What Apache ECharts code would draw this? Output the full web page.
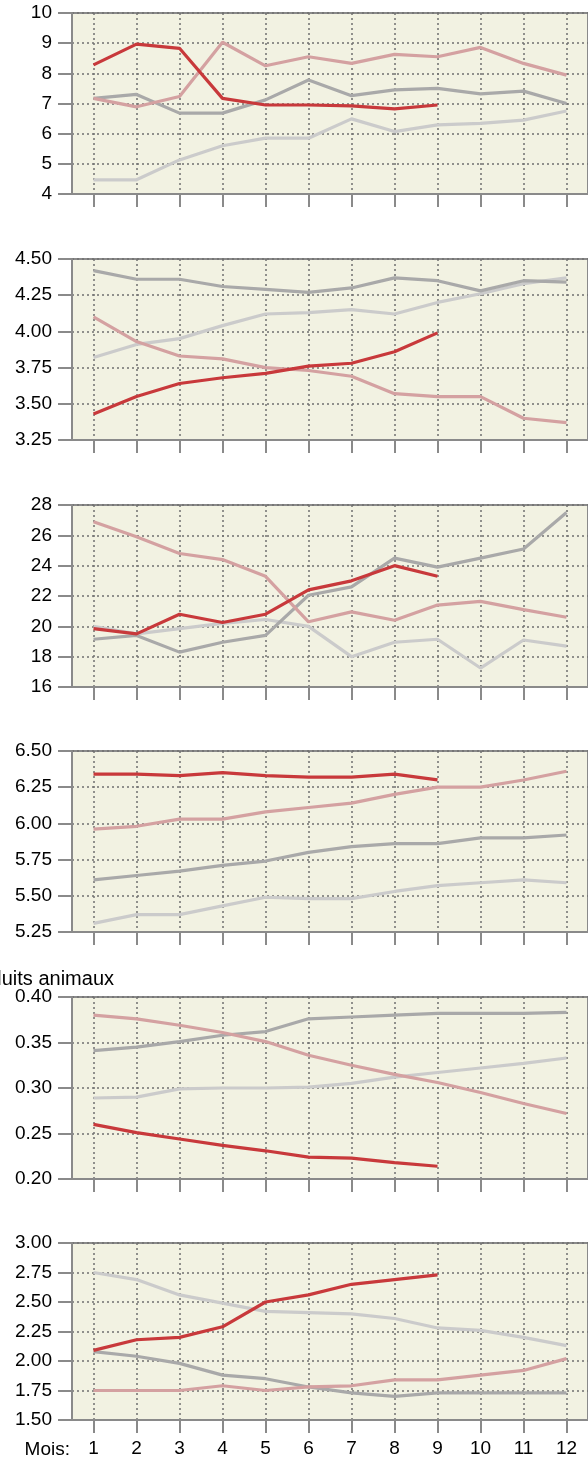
<!DOCTYPE html>
<html>
<head>
<meta charset="utf-8">
<script src="https://cdn.jsdelivr.net/npm/echarts@6/dist/echarts.min.js"></script>
<style>
  html, body { margin: 0; padding: 0; background: #fff; }
  #chart { width: 588px; height: 1463px; }
</style>
</head>
<body>
<div id="chart"></div>
<script>
// months on the x axis
var months = ['1', '2', '3', '4', '5', '6', '7', '8', '9', '10', '11', '12'];

// y ranges of the six panels [min, max, step]
var yRanges = [
    [4, 10, 1],
    [3.25, 4.5, 0.25],
    [16, 28, 2],
    [5.25, 6.5, 0.25],
    [0.2, 0.4, 0.05],
    [1.5, 3, 0.25]
];
var yDecimals = [0, 2, 0, 2, 2, 2];

// panel 1
var p1Red = [8.28, 8.97, 8.83, 7.17, 6.95, 6.95, 6.92, 6.82, 6.95];
var p1Pink = [7.17, 6.89, 7.23, 9.03, 8.25, 8.55, 8.33, 8.63, 8.55, 8.86, 8.33, 7.94];
var p1Dark = [7.17, 7.3, 6.68, 6.68, 7.12, 7.78, 7.26, 7.45, 7.5, 7.32, 7.41, 7.0];
var p1Light = [4.47, 4.47, 5.13, 5.6, 5.85, 5.85, 6.49, 6.07, 6.29, 6.34, 6.45, 6.75];

// panel 2
var p2Red = [3.43, 3.55, 3.64, 3.68, 3.71, 3.76, 3.78, 3.86, 3.99];
var p2Pink = [4.1, 3.93, 3.83, 3.81, 3.75, 3.73, 3.69, 3.57, 3.55, 3.55, 3.4, 3.37];
var p2Dark = [4.42, 4.36, 4.36, 4.31, 4.29, 4.27, 4.3, 4.37, 4.35, 4.28, 4.35, 4.34];
var p2Light = [3.82, 3.91, 3.95, 4.04, 4.12, 4.13, 4.15, 4.12, 4.2, 4.26, 4.33, 4.37];

// panel 3
var p3Red = [19.85, 19.5, 20.8, 20.25, 20.8, 22.4, 23.0, 24.0, 23.3];
var p3Pink = [26.9, 25.9, 24.8, 24.4, 23.3, 20.3, 20.95, 20.4, 21.4, 21.65, 21.1, 20.6];
var p3Dark = [19.15, 19.4, 18.3, 18.95, 19.4, 22.05, 22.6, 24.5, 23.9, 24.5, 25.1, 27.5];
var p3Light = [20.0, 19.5, 19.85, 20.2, 20.45, 20.0, 18.0, 18.95, 19.15, 17.25, 19.1, 18.7];

// panel 4
var p4Red = [6.34, 6.34, 6.33, 6.35, 6.33, 6.32, 6.32, 6.34, 6.3];
var p4Pink = [5.96, 5.98, 6.03, 6.03, 6.08, 6.11, 6.14, 6.2, 6.25, 6.25, 6.3, 6.36];
var p4Dark = [5.61, 5.64, 5.67, 5.71, 5.74, 5.8, 5.84, 5.86, 5.86, 5.9, 5.9, 5.92];
var p4Light = [5.31, 5.37, 5.37, 5.43, 5.49, 5.48, 5.48, 5.53, 5.57, 5.59, 5.61, 5.59];

// panel 5 (produits animaux)
var p5Red = [0.26, 0.251, 0.244, 0.237, 0.231, 0.224, 0.223, 0.218, 0.214];
var p5Pink = [0.38, 0.376, 0.369, 0.361, 0.351, 0.336, 0.325, 0.315, 0.306, 0.295, 0.283, 0.272];
var p5Dark = [0.341, 0.345, 0.351, 0.358, 0.362, 0.376, 0.378, 0.38, 0.382, 0.382, 0.382, 0.383];
var p5Light = [0.289, 0.29, 0.299, 0.3, 0.3, 0.301, 0.305, 0.312, 0.317, 0.322, 0.327, 0.333];

// panel 6
var p6Red = [2.09, 2.18, 2.2, 2.29, 2.5, 2.56, 2.65, 2.69, 2.73];
var p6Pink = [1.75, 1.75, 1.75, 1.79, 1.75, 1.78, 1.79, 1.84, 1.84, 1.88, 1.92, 2.02];
var p6Dark = [2.08, 2.04, 1.98, 1.88, 1.85, 1.78, 1.73, 1.7, 1.73, 1.73, 1.73, 1.73];
var p6Light = [2.75, 2.69, 2.56, 2.49, 2.42, 2.41, 2.4, 2.36, 2.28, 2.26, 2.2, 2.13];

var panels = [
    [p1Light, p1Dark, p1Pink, p1Red],
    [p2Light, p2Dark, p2Pink, p2Red],
    [p3Light, p3Dark, p3Pink, p3Red],
    [p4Light, p4Dark, p4Pink, p4Red],
    [p5Light, p5Dark, p5Pink, p5Red],
    [p6Light, p6Dark, p6Pink, p6Red]
];
var lineColors = ['#cbcbcb', '#a9a9a9', '#d4a1a1', '#c8393b'];

var gridTops = [13, 259, 505, 751, 997, 1243];
var gridHeights = [181, 181, 182, 181, 182, 177];

var chart = echarts.init(document.getElementById('chart'));

var axisGray = '#8a8a8a';
var gridDots = { color: '#707070', width: 1.5, type: [2, 3] };
var font = 'Liberation Sans, Arial, sans-serif';

var grids = [], xAxes = [], yAxes = [], series = [];
for (let i = 0; i < panels.length; i++) {
    let last = i === panels.length - 1;
    grids.push({
        left: 72, right: -2, top: gridTops[i], height: gridHeights[i],
        show: true, backgroundColor: '#f2f2e2',
        borderColor: axisGray, borderWidth: 2
    });
    xAxes.push({
        type: 'category', gridIndex: i, data: months, boundaryGap: true,
        axisLine: { lineStyle: { color: axisGray, width: 2 } },
        axisTick: { show: true, alignWithLabel: true, inside: false, length: 13, lineStyle: { color: axisGray, width: 2 } },
        axisLabel: { show: last, margin: 19, color: '#000', fontSize: 19, fontFamily: font },
        splitLine: { show: true, alignWithLabel: true, lineStyle: gridDots }
    });
    yAxes.push({
        type: 'value', gridIndex: i,
        min: yRanges[i][0], max: yRanges[i][1], interval: yRanges[i][2],
        axisLine: { show: true, lineStyle: { color: axisGray, width: 2 } },
        axisTick: { show: true, length: 14, lineStyle: { color: axisGray, width: 2 } },
        axisLabel: {
            margin: 20, color: '#000', fontSize: 19, fontFamily: font,
            formatter: (function (d) { return function (v) { return v.toFixed(d); }; })(yDecimals[i])
        },
        splitLine: { show: true, lineStyle: gridDots }
    });
    panels[i].forEach(function (vals, k) {
        series.push({
            type: 'line', xAxisIndex: i, yAxisIndex: i, data: vals,
            symbol: 'none', silent: true, z: 3 + k,
            lineStyle: { color: lineColors[k], width: 3.2 }
        });
    });
}

chart.setOption({
    animation: false,
    grid: grids,
    xAxis: xAxes,
    yAxis: yAxes,
    series: series,
    graphic: [
        {
            // title is cut off at the left edge in the original
            type: 'text', x: 114, y: 979,
            style: { text: 'Produits animaux', fill: '#000', fontSize: 20, fontFamily: font, align: 'right', verticalAlign: 'middle' }
        },
        {
            type: 'text', x: 70, y: 1450,
            style: { text: 'Mois:', fill: '#000', fontSize: 19, fontFamily: font, align: 'right', verticalAlign: 'middle' }
        }
    ]
});
window.addEventListener('resize', function () {
    chart.resize();
});
</script>
</body>
</html>
